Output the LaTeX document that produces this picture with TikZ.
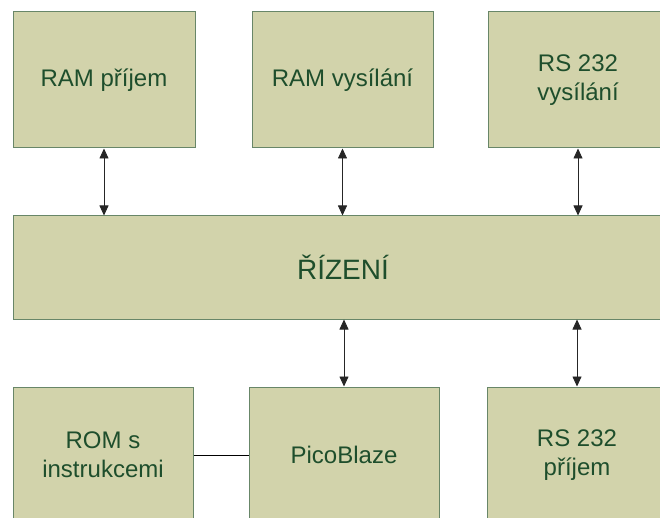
\documentclass[tikz,border=0pt]{standalone}
\usepackage{fontspec}
\setmainfont{Liberation Sans}
\usetikzlibrary{arrows.meta}
\definecolor{boxfill}{RGB}{210,211,171}
\definecolor{boxline}{RGB}{104,134,104}
\definecolor{boxtext}{RGB}{30,78,44}
\tikzset{
  blk/.style={draw=boxline, line width=1pt, fill=boxfill, text=boxtext,
    align=center, inner sep=0pt, font=\fontsize{24}{29}\selectfont},
  dbl/.style={line width=0.8pt, draw=black!85,
    {Triangle[width=9pt,length=10pt]}-{Triangle[width=9pt,length=10pt]}},
  plain/.style={line width=0.8pt, draw=black}
}
\begin{document}
\begin{tikzpicture}[x=1pt,y=-1pt]
\useasboundingbox (0,0) rectangle (660,518);
\clip (0,0) rectangle (660,518);
\node[blk, minimum width=182pt, minimum height=136pt] (A) at (104,80) {RAM příjem};
\node[blk, minimum width=181pt, minimum height=136pt] (B) at (342.5,80) {RAM vysílání};
\node[blk, minimum width=180pt, minimum height=136pt] (C) at (578,80) {RS 232\\vysílání};
\node[blk, minimum width=660pt, minimum height=103pt, font=\fontsize{28}{32}\selectfont] (M) at (343,267.5) {ŘÍZENÍ};
\node[blk, minimum width=180pt, minimum height=136pt] (D) at (103,455) {ROM s\\instrukcemi};
\node[blk, minimum width=190pt, minimum height=136pt] (E) at (344,455) {PicoBlaze};
\node[blk, minimum width=180pt, minimum height=136pt] (F) at (577,455) {RS 232\\příjem};
\draw[dbl] (A.south) -- (A.south |- M.north);
\draw[dbl] (B.south) -- (B.south |- M.north);
\draw[dbl] (C.south) -- (C.south |- M.north);
\draw[dbl] (E.north |- M.south) -- (E.north);
\draw[dbl] (F.north |- M.south) -- (F.north);
\draw[plain] (D.east) -- (E.west);
\end{tikzpicture}
\end{document}
